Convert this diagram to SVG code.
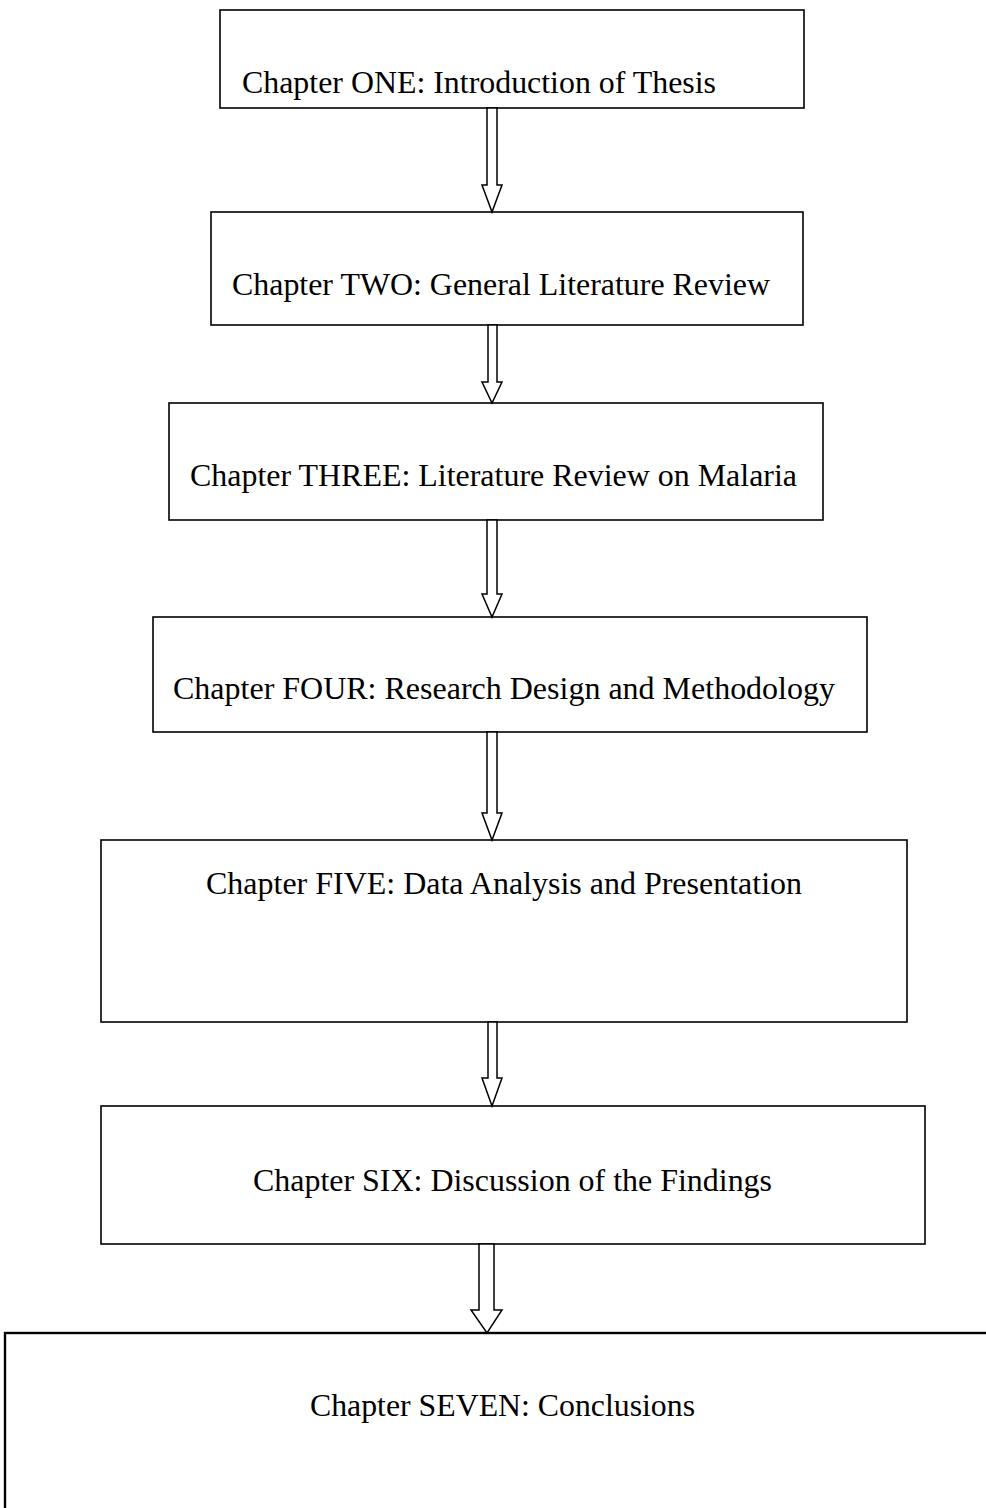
<svg xmlns="http://www.w3.org/2000/svg" width="986" height="1508" viewBox="0 0 986 1508">
  <style>
    .box { fill: #ffffff; stroke: #000000; stroke-width: 1.6; }
    .box7 { fill: #ffffff; stroke: #000000; stroke-width: 2.4; }
    .label { font-family: "Liberation Serif", "Times New Roman", serif; font-size: 32px; fill: #000000; }
    .arrow { fill: #ffffff; stroke: #000000; stroke-width: 1.5; stroke-linejoin: miter; }
  </style>
  <rect width="986" height="1508" fill="#ffffff"/>

  <g id="ch1">
    <rect class="box" x="220" y="10" width="584" height="98"/>
    <text class="label" x="242" y="93" textLength="474" lengthAdjust="spacingAndGlyphs">Chapter ONE: Introduction of Thesis</text>
  </g>
  <g id="ch2">
    <rect class="box" x="211" y="212" width="592" height="113"/>
    <text class="label" x="232" y="295" textLength="538" lengthAdjust="spacingAndGlyphs">Chapter TWO: General Literature Review</text>
  </g>
  <g id="ch3">
    <rect class="box" x="169" y="403" width="654" height="117"/>
    <text class="label" x="190" y="486" textLength="607" lengthAdjust="spacingAndGlyphs">Chapter THREE: Literature Review on Malaria</text>
  </g>
  <g id="ch4">
    <rect class="box" x="153" y="617" width="714" height="115"/>
    <text class="label" x="173" y="699" textLength="662" lengthAdjust="spacingAndGlyphs">Chapter FOUR: Research Design and Methodology</text>
  </g>
  <g id="ch5">
    <rect class="box" x="101" y="840" width="806" height="182"/>
    <text class="label" x="206" y="894" textLength="596" lengthAdjust="spacingAndGlyphs">Chapter FIVE: Data Analysis and Presentation</text>
  </g>
  <g id="ch6">
    <rect class="box" x="101" y="1106" width="824" height="138"/>
    <text class="label" x="253" y="1191" textLength="519" lengthAdjust="spacingAndGlyphs">Chapter SIX: Discussion of the Findings</text>
  </g>
  <g id="ch7">
    <rect class="box7" x="5" y="1333" width="990" height="200"/>
    <text class="label" x="310" y="1416" textLength="385" lengthAdjust="spacingAndGlyphs">Chapter SEVEN: Conclusions</text>
  </g>

  <!-- hollow block arrows between chapters -->
  <g id="connectors">
    <path class="arrow" d="M487,108 L497,108 L497,185 L502,185 L492,212 L482,185 L487,185 Z"/>
    <path class="arrow" d="M488,325 L497,325 L497,382 L502,382 L492,403 L482,382 L488,382 Z"/>
    <path class="arrow" d="M487,520 L497,520 L497,594 L502,594 L492,617 L482,594 L487,594 Z"/>
    <path class="arrow" d="M487,732 L497,732 L497,813 L502,813 L492,840 L482,813 L487,813 Z"/>
    <path class="arrow" d="M488,1022 L497,1022 L497,1078 L502,1078 L492,1106 L482,1078 L488,1078 Z"/>
    <path class="arrow" d="M479,1244 L494,1244 L494,1310 L502,1310 L487,1333 L471,1310 L479,1310 Z"/>
  </g>
</svg>
